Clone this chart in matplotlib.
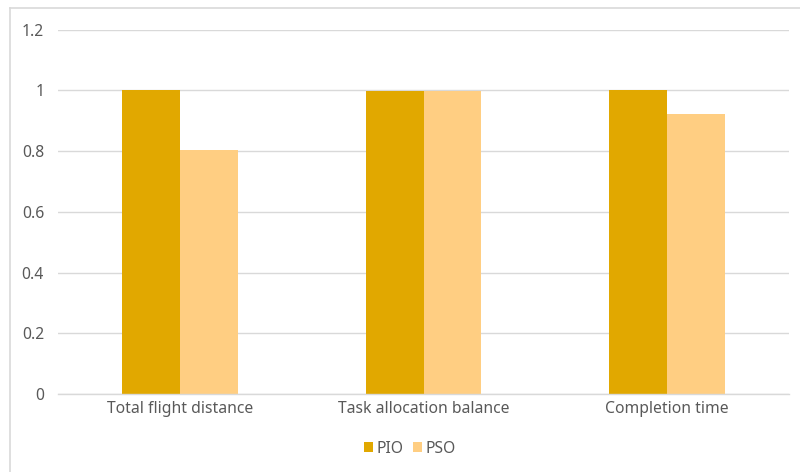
import matplotlib
matplotlib.use('Agg')
import matplotlib.pyplot as plt
import numpy as np
from matplotlib.lines import Line2D

# -- Data ---------------------------------------------------------------------
categories = ['Total flight distance', 'Task allocation balance', 'Completion time']
pio_vals = [1.0, 0.997, 1.0]
pso_vals = [0.805, 0.997, 0.922]
series_names = ['PIO', 'PSO']
yticks = [0, 0.2, 0.4, 0.6, 0.8, 1, 1.2]
ytick_labels = ['0', '0.2', '0.4', '0.6', '0.8', '1', '1.2']

# -- Style --------------------------------------------------------------------
PIO_COLOR = '#E1A800'
PSO_COLOR = '#FFCE82'
TEXT = '#595959'
GRID = '#D9D9D9'
BORDER = '#D9D9D9'

plt.rcParams['font.family'] = ['Noto Sans', 'DejaVu Sans']

fig = plt.figure(figsize=(8, 4.72), dpi=100, facecolor='white')
ax = fig.add_axes([0.0725, 0.1653, 0.91375, 0.772])

x = np.arange(len(categories))
width = 0.238
ax.bar(x - width / 2, pio_vals, width, color=PIO_COLOR, label=series_names[0], zorder=3)
ax.bar(x + width / 2, pso_vals, width, color=PSO_COLOR, label=series_names[1], zorder=3)

ax.set_xlim(-0.5, len(categories) - 0.5)
ax.set_ylim(0, 1.2)
ax.set_yticks(yticks)
ax.set_yticklabels(ytick_labels)
ax.set_xticks(x)
ax.set_xticklabels(categories)
ax.tick_params(axis='both', length=0, colors=TEXT, labelsize=11.3)
ax.tick_params(axis='y', pad=10)
ax.tick_params(axis='x', pad=5)

ax.yaxis.grid(True, color=GRID, linewidth=1.0, zorder=0)
for side in ['top', 'right', 'left']:
    ax.spines[side].set_visible(False)
ax.spines['bottom'].set_color(GRID)
ax.spines['bottom'].set_linewidth(1.0)
ax.spines['bottom'].set_zorder(4)

# chart area border (left and top edges)
fig.add_artist(Line2D([0.012, 0.012], [0.0, 0.983], transform=fig.transFigure,
                      color=BORDER, linewidth=1.2))
fig.add_artist(Line2D([0.012, 1.0], [0.983, 0.983], transform=fig.transFigure,
                      color=BORDER, linewidth=1.2))

fig.legend(loc='center', bbox_to_anchor=(0.512, 0.049), ncol=2, frameon=False,
           fontsize=11.3, labelcolor=TEXT, handlelength=0.6, handleheight=0.6,
           handletextpad=0.2, columnspacing=0.6)

fig.savefig('out.png', dpi=100, facecolor='white')
